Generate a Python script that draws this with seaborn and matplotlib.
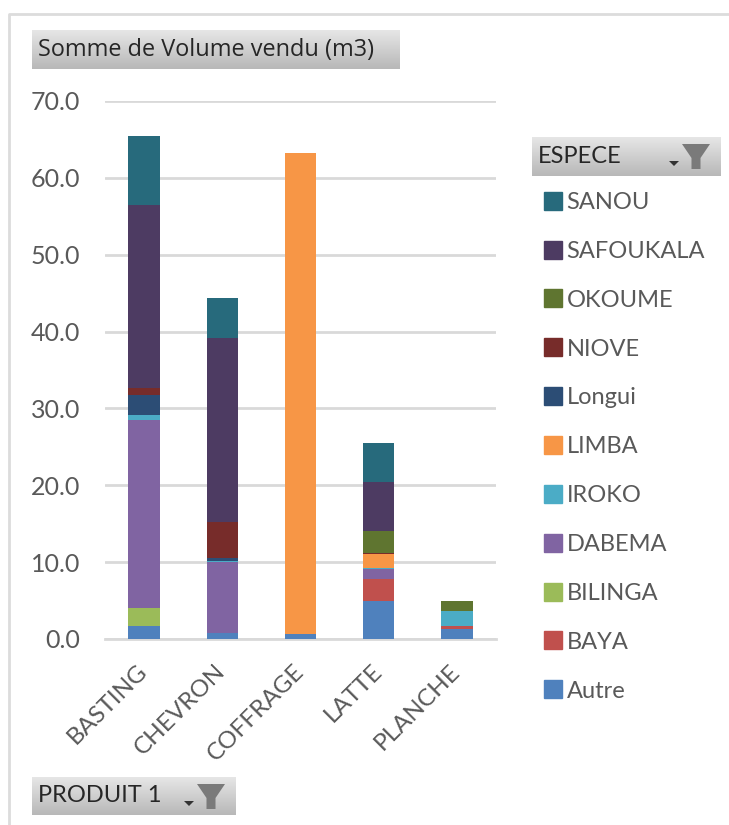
import numpy as np
import pandas as pd
import matplotlib
matplotlib.use('Agg')
import matplotlib.pyplot as plt
import matplotlib.patches as mpatches
from matplotlib.lines import Line2D
import seaborn as sns

sns.set_theme(style="white")
plt.rcParams['font.family'] = ['Lato', 'DejaVu Sans']

# data
produits = ["BASTING", "CHEVRON", "COFFRAGE", "LATTE", "PLANCHE"]
especes = ["Autre", "BAYA", "BILINGA", "DABEMA", "IROKO", "LIMBA",
           "Longui", "NIOVE", "OKOUME", "SAFOUKALA", "SANOU"]
autre = [1.7, 0.75, 0.6, 4.9, 1.35]
baya = [0, 0, 0, 2.9, 0.35]
bilinga = [2.3, 0, 0, 0, 0]
dabema = [24.5, 9.25, 0, 1.3, 0]
iroko = [0.7, 0.15, 0, 0.2, 1.95]
limba = [0, 0, 62.6, 1.7, 0]
longui = [2.6, 0.35, 0, 0, 0]
niove = [0.9, 4.7, 0, 0.25, 0]
okoume = [0, 0, 0, 2.75, 1.3]
safoukala = [23.8, 24.0, 0, 6.4, 0]
sanou = [9.0, 5.2, 0, 5.1, 0]
yticks = [0, 10, 20, 30, 40, 50, 60, 70]
couleurs = ["#4f81bd", "#c0504d", "#9bbb59", "#8064a2", "#4bacc6", "#f79646",
            "#2c4d75", "#772c2a", "#5f7530", "#4d3b62", "#276a7c"]

volumes = [autre, baya, bilinga, dabema, iroko, limba, longui, niove, okoume, safoukala, sanou]
df = pd.DataFrame(volumes, index=especes, columns=produits)
df = df.rename_axis("espece").reset_index().melt("espece", var_name="produit", value_name="volume")
df["produit"] = pd.Categorical(df["produit"], categories=produits)

W, H = 729, 825
GRIS = "#595959"
GRILLE = "#d9d9d9"


def fx(px):
    return px / W


def fy(py):
    return 1 - py / H


fig = plt.figure(figsize=(W / 100, H / 100), dpi=100, facecolor="white")

# plot area
ax = fig.add_axes([fx(105), fy(639), (496 - 105) / W, (639 - 101) / H])
sns.histplot(data=df, x="produit", weights="volume", hue="espece", hue_order=especes[::-1],
             multiple="stack", discrete=True, shrink=0.4, palette=dict(zip(especes, couleurs)),
             alpha=1, linewidth=0, legend=False, zorder=3, ax=ax)
ax.set_xlim(-0.5, 4.5)
ax.set_ylim(0, 70)
ax.set_yticks(yticks)
ax.set_yticklabels([f"{v:.1f}" for v in yticks], fontsize=18, color=GRIS)
ax.set_xticks(range(len(produits)))
ax.set_xticklabels(produits, fontsize=17.5, color=GRIS, rotation=45, ha="right",
                   va="center", rotation_mode="anchor")
ax.set_xlabel("")
ax.set_ylabel("")
ax.yaxis.grid(True, color=GRILLE, linewidth=2, zorder=0)
ax.set_axisbelow(True)
ax.tick_params(axis="y", length=0, pad=18)
ax.tick_params(axis="x", length=0, pad=21)
sns.despine(ax=ax, left=True, top=True, right=True)
ax.spines["bottom"].set_color(GRILLE)
ax.spines["bottom"].set_linewidth(2)
ax.patch.set_alpha(0)

# legend, same order as the stack from top to bottom
handles = [Line2D([], [], linestyle="", marker="s", markersize=12.5, color=c, label=e)
           for e, c in zip(especes[::-1], couleurs[::-1])]
fig.legend(handles=handles, loc="upper left", bbox_to_anchor=(fx(541), fy(192)),
           frameon=False, fontsize=17, labelcolor=GRIS, labelspacing=1.18,
           handletextpad=0.08, borderpad=0, borderaxespad=0, handlelength=1.0)

# outer frame of the chart
fig.add_artist(Line2D([fx(9), fx(9), fx(729)], [fy(825), fy(14), fy(14)],
                      color="#dcdcdc", linewidth=2))


def bouton(x0, y0, x1, y1, texte, filtre=False, size=17):
    """Grey gradient pivot-chart field button."""
    b = fig.add_axes([fx(x0), fy(y1), (x1 - x0) / W, (y1 - y0) / H])
    b.imshow(np.linspace(0, 1, 40).reshape(-1, 1), cmap=sns.blend_palette(["#e6e6e6", "#b8b8b8"], as_cmap=True),
             aspect="auto", extent=(x0, x1, y1, y0), vmin=0, vmax=1)
    b.set_xlim(x0, x1)
    b.set_ylim(y1, y0)
    b.axis("off")
    b.text(x0 + 6, (y0 + y1) / 2, texte, fontsize=size, color="#262626", va="center", ha="left",
           family=["Open Sans", "DejaVu Sans"] if not filtre else ["Lato", "DejaVu Sans"])
    if filtre:
        # funnel + small arrow
        xf = x1 - 25
        yh = y0 + 7
        b.add_patch(mpatches.Polygon([(xf - 14, yh), (xf + 14, yh), (xf + 4.5, yh + 14), (xf + 4.5, yh + 25),
                                      (xf - 4.5, yh + 25), (xf - 4.5, yh + 14)], closed=True,
                                     facecolor="#7a7a7a", edgecolor="none"))
        b.add_patch(mpatches.Polygon([(xf - 27, yh + 17), (xf - 17, yh + 17), (xf - 22, yh + 22)], closed=True,
                                     facecolor="#333333", edgecolor="none"))


bouton(32, 30, 400, 69, "Somme de Volume vendu (m3)", size=16.9)
bouton(532, 137, 721, 176, "ESPECE", filtre=True)
bouton(32, 777, 236, 815, "PRODUIT 1", filtre=True)

fig.savefig("out.png", dpi=100)
